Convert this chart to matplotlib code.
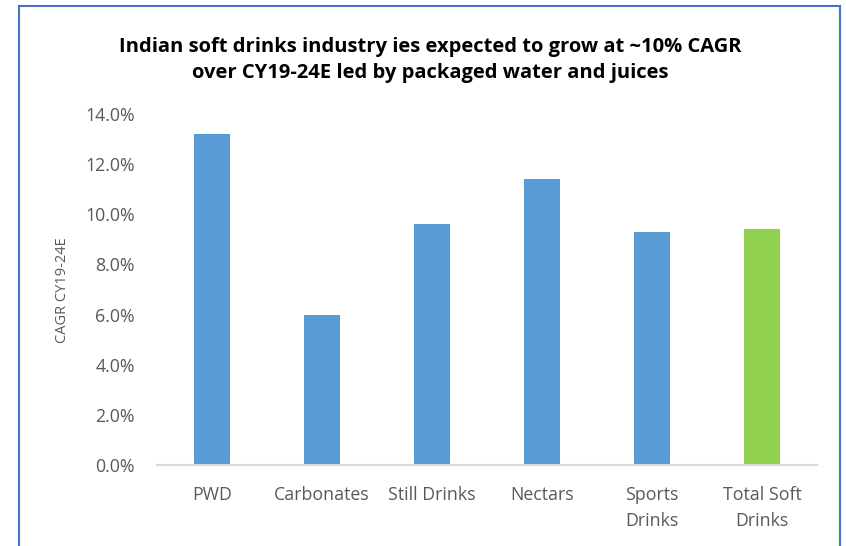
import matplotlib.pyplot as plt
from matplotlib.patches import Rectangle
from matplotlib.ticker import FuncFormatter

# Dados do gráfico
categorias = ['PWD', 'Carbonates', 'Still Drinks', 'Nectars', 'Sports\nDrinks', 'Total Soft\nDrinks']
cagr = [13.2, 6.0, 9.6, 11.4, 9.3, 9.4]
cores = ['#5b9bd5'] * 5 + ['#92d050']

plt.rcParams['font.family'] = ['Open Sans', 'DejaVu Sans']

fig = plt.figure(figsize=(8.46, 5.46), dpi=100)
ax = fig.add_axes([157 / 846, 1 - 465 / 546, 660 / 846, (465 - 114) / 546])

x = list(range(len(categorias)))
ax.bar(x, cagr, width=0.32, color=cores)

ax.set_xlim(-0.5, len(categorias) - 0.5)
ax.set_ylim(0, 14)
ax.set_yticks([0, 2, 4, 6, 8, 10, 12, 14])
ax.yaxis.set_major_formatter(FuncFormatter(lambda v, p: f'{v:.1f}%'))
ax.set_xticks(x)
ax.set_xticklabels(categorias, fontsize=12.8, color='#595959', linespacing=1.55)
ax.tick_params(axis='y', labelsize=12.8, labelcolor='#595959', length=0, pad=16)
ax.tick_params(axis='x', length=0, pad=15)

for lado in ['top', 'right', 'left']:
    ax.spines[lado].set_visible(False)
ax.spines['bottom'].set_color('#d9d9d9')
ax.spines['bottom'].set_linewidth(1.5)

fig.text(63 / 846, 1 - 290 / 546, 'CAGR CY19-24E', rotation='vertical', ha='center', va='center',
         fontsize=10.5, color='#595959')

fig.text(430 / 846, 1 - 60 / 546,
         'Indian soft drinks industry ies expected to grow at ~10% CAGR\nover CY19-24E led by packaged water and juices',
         ha='center', va='center', fontsize=14.5, fontweight='bold', color='black', linespacing=1.45)

# Borda do gráfico
fig.patches.append(Rectangle((19 / 846, -0.01), (840 - 19) / 846, 1 - 6 / 546 + 0.01,
                             transform=fig.transFigure, fill=False, edgecolor='#4472c4', linewidth=1.5))

plt.savefig('out.png', dpi=100)
plt.close()
